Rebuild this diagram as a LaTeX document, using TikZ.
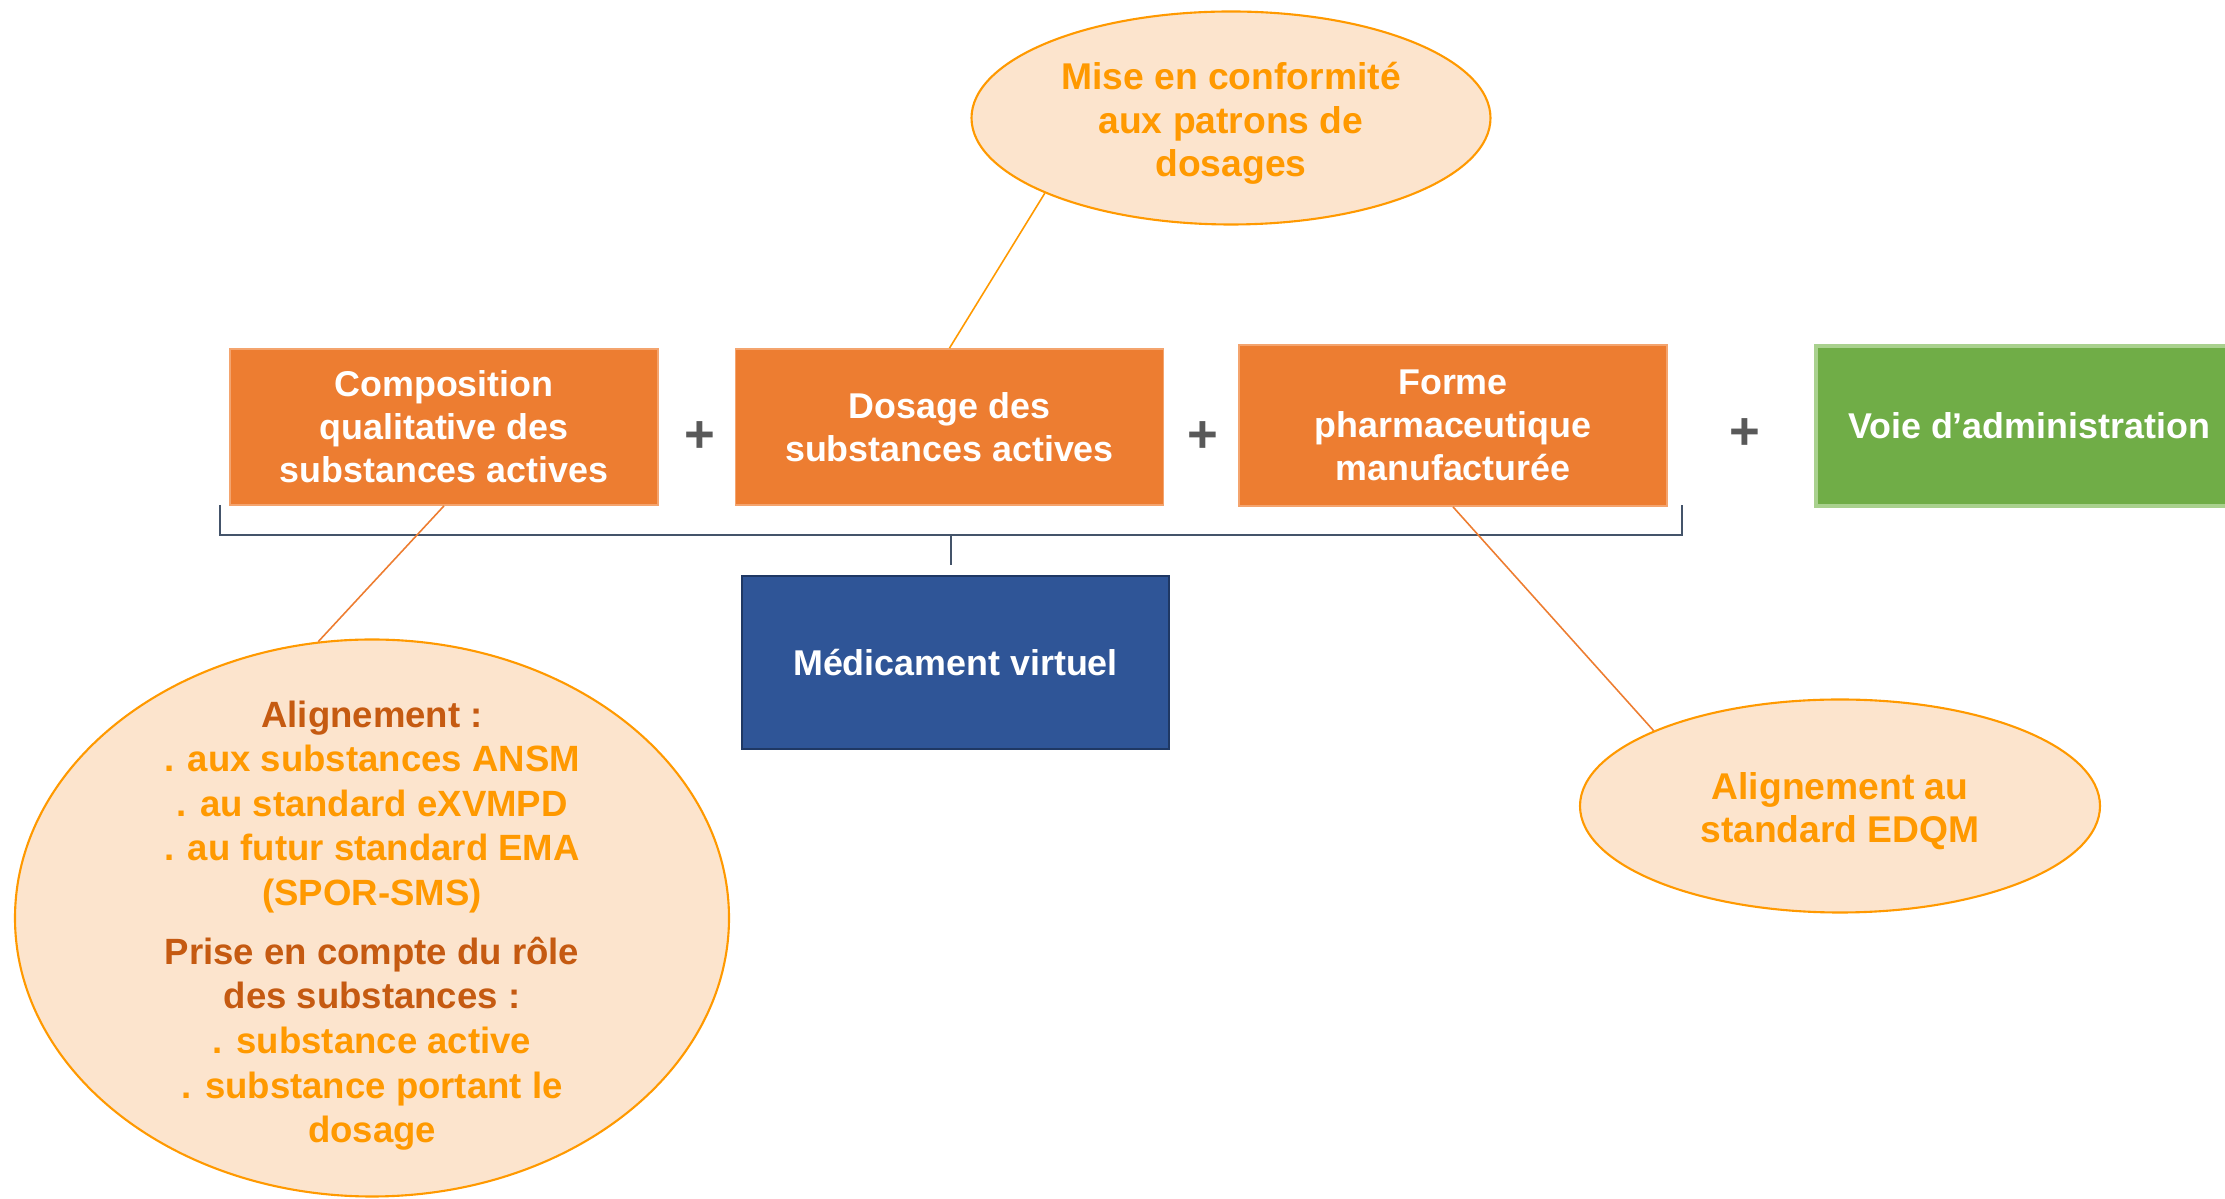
\documentclass[tikz,border=0pt]{standalone}
\usepackage{fontspec}
\setmainfont{Liberation Sans}
\usepackage{tikz}
\usetikzlibrary{shapes.geometric}
\definecolor{boxorange}{HTML}{ED7D31}
\definecolor{boxedge}{HTML}{F4A46E}
\definecolor{boxgreen}{HTML}{70AD47}
\definecolor{greenedge}{HTML}{A9D18E}
\definecolor{boxblue}{HTML}{2F5597}
\definecolor{blueedge}{HTML}{1F3864}
\definecolor{callfill}{HTML}{FCE4CD}
\definecolor{amber}{HTML}{FF9900}
\definecolor{rust}{HTML}{C55A11}
\definecolor{slate}{HTML}{44546A}
\definecolor{plusgray}{HTML}{595959}

\begin{document}
\begin{tikzpicture}[x=1cm,y=1cm,
bigbox/.style={rectangle,fill=boxorange,draw=boxedge,line width=0.5pt,minimum width=4.28cm,minimum height=1.56cm,inner sep=0pt,text=white,align=center,font=\bfseries\fontsize{10.2}{12.2}\selectfont},
callout/.style={ellipse,fill=callfill,draw=amber,line width=0.6pt,inner sep=0pt},
calltext/.style={text=amber,align=center,font=\bfseries\fontsize{10.6}{12.4}\selectfont},
plussign/.style={text=plusgray,font=\bfseries\fontsize{15}{15}\selectfont},
link/.style={line width=0.45pt}]
\useasboundingbox (0,0) rectangle (22.25,-11.99);
\node [bigbox] (comp) at (4.44,-4.27) {Composition\\qualitative des\\substances actives};
\node [bigbox] (dos) at (9.495,-4.27) {Dosage des\\substances actives};
\node [bigbox,minimum height=1.61cm] (forme) at (14.53,-4.255) {Forme\\pharmaceutique\\manufactur\'ee};
\node [bigbox,fill=boxgreen,draw=greenedge,line width=1.2pt,minimum width=4.26cm,minimum height=1.6cm] (voie) at (20.29,-4.26) {Voie d’administration};
\node [plussign] (plusA) at (7.00,-4.37) {+};
\node [plussign] (plusB) at (12.03,-4.37) {+};
\node [plussign] (plusC) at (17.45,-4.34) {+};
\coordinate (brL) at (2.20,-5.05);
\coordinate (brR) at (16.82,-5.05);
\coordinate (brM) at (9.51,-5.35);
\coordinate (brT) at (9.51,-5.65);
\draw [slate,line width=0.6pt] (brL) |- (brM) -| (brR);
\draw [slate,line width=0.6pt] (brM) -- (brT);
\node [bigbox,fill=boxblue,draw=blueedge,minimum width=4.27cm,minimum height=1.73cm] (virt) at (9.555,-6.625) {M\'edicament virtuel};
\node [callout,minimum width=5.19cm,minimum height=2.13cm] (conf) at (12.31,-1.18) {};
\node [calltext,yshift=-0.055cm] (confT) at (conf.center) {Mise en conformit\'e\\aux patrons de\\dosages};
\node [callout,minimum width=7.14cm,minimum height=5.57cm] (ali) at (3.72,-9.18) {};
\node [calltext,yshift=-0.075cm,font=\bfseries\fontsize{10.4}{12.7}\selectfont] (aliT) at (ali.center) {\textcolor{rust}{Alignement :}\\. aux substances ANSM\\. au standard eXVMPD\\. au futur standard EMA\\(SPOR-SMS)\\[0.14cm]\textcolor{rust}{Prise en compte du r\^ole}\\\textcolor{rust}{des substances :}\\. substance active\\. substance portant le\\dosage};
\node [callout,minimum width=5.2cm,minimum height=2.13cm] (edqm) at (18.40,-8.06) {};
\node [calltext,yshift=-0.05cm] (edqmT) at (edqm.center) {Alignement au\\standard EDQM};
\draw [link,amber] (dos.north) -- (conf.202);
\draw [link,boxorange] (comp.south) -- (ali.101);
\draw [link,boxorange] (forme.south) -- (edqm.158);
\end{tikzpicture}
\end{document}
